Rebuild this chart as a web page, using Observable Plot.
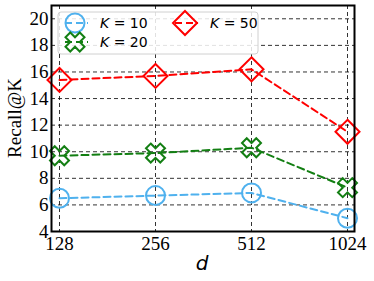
<!DOCTYPE html>
<html>
<head>
<meta charset="utf-8">
<script src="https://cdn.jsdelivr.net/npm/d3@7"></script>
<script src="https://cdn.jsdelivr.net/npm/@observablehq/plot@0.6"></script>
<style>
  html, body { margin: 0; padding: 0; background: #fff; }
  #chart { width: 374px; height: 281px; }
</style>
</head>
<body>
<div id="chart"></div>
<script>
// ---- data ----
const dims = ["128", "256", "512", "1024"];
const k10 = [6.5, 6.7, 6.9, 5.0];
const k20 = [9.7, 9.9, 10.3, 7.3];
const k50 = [15.4, 15.7, 16.2, 11.5];
const seriesNames = ["10", "20", "50"];
const yTicks = [4, 6, 8, 10, 12, 14, 16, 18, 20];

const colors = {"10": "#4fb1ee", "20": "#137f13", "50": "#ff0000"};

// custom symbols
const symX = {
  draw(ctx, size) {
    const r = Math.sqrt(size / Math.PI) * 2;
    const pts = [[-0.25,-0.5],[0,-0.25],[0.25,-0.5],[0.5,-0.25],[0.25,0],[0.5,0.25],
                 [0.25,0.5],[0,0.25],[-0.25,0.5],[-0.5,0.25],[-0.25,0],[-0.5,-0.25]];
    ctx.moveTo(pts[0][0]*r, pts[0][1]*r);
    for (let i = 1; i < pts.length; i++) ctx.lineTo(pts[i][0]*r, pts[i][1]*r);
    ctx.closePath();
  }
};
const symD = {
  draw(ctx, size) {
    const r = Math.sqrt(size / Math.PI);
    ctx.moveTo(0, -r); ctx.lineTo(r, 0); ctx.lineTo(0, r); ctx.lineTo(-r, 0); ctx.closePath();
  }
};
const symbols = {"10": "circle", "20": symX, "50": symD};
const radii = {"10": 9.5, "20": 9.5, "50": 12};

function rows(name, vals) { return dims.map((d, i) => ({d, v: vals[i], s: name})); }
const data = [...rows("10", k10), ...rows("20", k20), ...rows("50", k50)];

const marks = [
  Plot.gridY(yTicks, {stroke: "#000", strokeOpacity: 0.8, strokeDasharray: "4,3", strokeWidth: 1}),
  Plot.gridX(dims, {stroke: "#000", strokeOpacity: 0.8, strokeDasharray: "4,3", strokeWidth: 1}),
  Plot.axisY(yTicks, {tickSize: 0, tickPadding: 3, label: null, fontSize: 19}),
  Plot.axisX(dims, {tickSize: 0, tickPadding: 5, label: null, fontSize: 19}),
];
for (const s of seriesNames) {
  const sub = data.filter(r => r.s === s);
  marks.push(Plot.line(sub, {x: "d", y: "v", stroke: colors[s], strokeWidth: 2, strokeDasharray: "7,4"}));
  marks.push(Plot.dot(sub, {x: "d", y: "v", stroke: colors[s], strokeWidth: 2, fill: "none", r: radii[s], symbol: symbols[s]}));
}
marks.push(Plot.frame({stroke: "#000", strokeWidth: 2}));

const svg = Plot.plot({
  width: 374, height: 281,
  marginLeft: 51, marginRight: 20, marginTop: 5, marginBottom: 50,
  style: {fontFamily: "'Liberation Serif', 'Times New Roman', serif", fontSize: "19px", background: "#fff", color: "#000"},
  x: {type: "point", domain: dims, padding: 0.062},
  y: {domain: [4, 21]},
  marks
});
document.getElementById("chart").appendChild(svg);

// axis labels and legend overlay
const sel = d3.select(svg);
sel.append("text").attr("x", 14).attr("y", 118)
  .attr("transform", "rotate(-90,14,118)")
  .attr("text-anchor", "middle").attr("dominant-baseline", "central")
  .style("font-family", "'Liberation Serif', serif").style("font-size", "19px").attr("fill", "#000")
  .text("Recall@K");
sel.append("text").attr("x", 202).attr("y", 263)
  .attr("text-anchor", "middle").attr("dominant-baseline", "central")
  .style("font-family", "'DejaVu Sans', sans-serif").style("font-size", "20px").style("font-style", "italic").attr("fill", "#000")
  .text("d");

const lg = sel.append("g");
lg.append("rect").attr("x", 58).attr("y", 12).attr("width", 200).attr("height", 42).attr("rx", 3)
  .attr("fill", "#fff").attr("fill-opacity", 0.85).attr("stroke", "#d0d0d0").attr("stroke-width", 1);
const entries = [
  {s: "10", x: 75, y: 23},
  {s: "20", x: 75, y: 42},
  {s: "50", x: 185, y: 23},
];
for (const e of entries) {
  const c = colors[e.s];
  lg.append("line").attr("x1", e.x - 13).attr("x2", e.x + 13).attr("y1", e.y).attr("y2", e.y)
    .attr("stroke", c).attr("stroke-width", 2).attr("stroke-dasharray", "7,4").attr("stroke-dashoffset", -3);
  const r = radii[e.s];
  const sym = e.s === "10" ? d3.symbolCircle : symbols[e.s];
  lg.append("path").attr("d", d3.symbol(sym, r * r * Math.PI)())
    .attr("transform", `translate(${e.x},${e.y})`)
    .attr("fill", "none").attr("stroke", c).attr("stroke-width", 2);
  const t = lg.append("text").attr("x", e.x + 25).attr("y", e.y).attr("dominant-baseline", "central")
    .attr("text-anchor", "start")
    .style("font-family", "'DejaVu Sans', sans-serif").style("font-size", "14px").attr("fill", "#000");
  t.append("tspan").style("font-style", "italic").text("K");
  t.append("tspan").text(" = " + e.s);
}
</script>
</body>
</html>
